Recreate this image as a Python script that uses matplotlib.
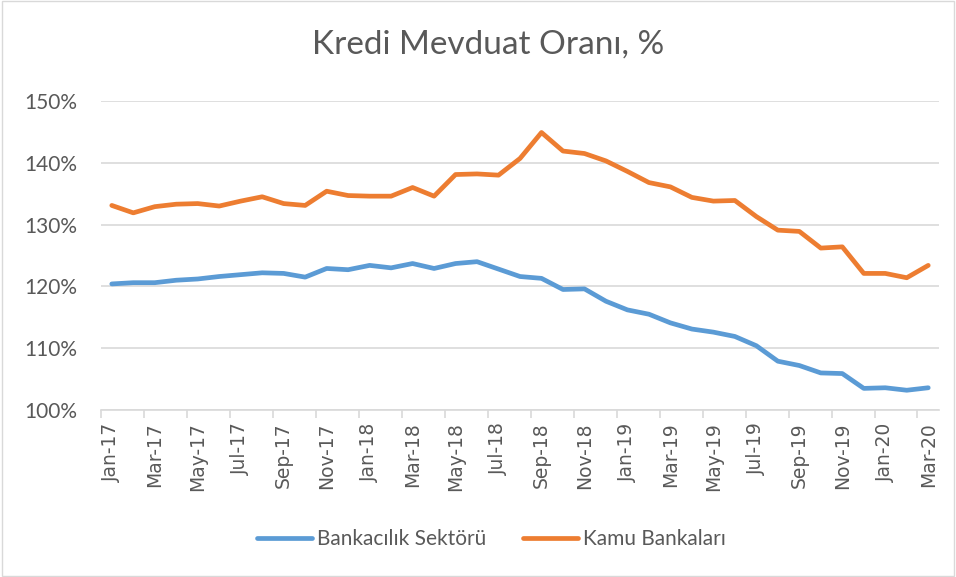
import matplotlib.pyplot as plt
from matplotlib.patches import Rectangle

# aylık veriler, Oca 2017 - Mar 2020
aylar = ["Jan-17", "Feb-17", "Mar-17", "Apr-17", "May-17", "Jun-17", "Jul-17", "Aug-17",
         "Sep-17", "Oct-17", "Nov-17", "Dec-17", "Jan-18", "Feb-18", "Mar-18", "Apr-18",
         "May-18", "Jun-18", "Jul-18", "Aug-18", "Sep-18", "Oct-18", "Nov-18", "Dec-18",
         "Jan-19", "Feb-19", "Mar-19", "Apr-19", "May-19", "Jun-19", "Jul-19", "Aug-19",
         "Sep-19", "Oct-19", "Nov-19", "Dec-19", "Jan-20", "Feb-20", "Mar-20"]

bankacilik = [120.4, 120.6, 120.6, 121.0, 121.2, 121.6, 121.9, 122.2, 122.1, 121.5,
              122.9, 122.7, 123.4, 123.0, 123.7, 122.9, 123.7, 124.0, 122.8, 121.6,
              121.3, 119.5, 119.6, 117.6, 116.2, 115.5, 114.1, 113.1, 112.6, 111.9,
              110.4, 107.9, 107.2, 106.0, 105.9, 103.5, 103.6, 103.2, 103.6]

kamu = [133.1, 131.9, 132.9, 133.3, 133.4, 133.0, 133.8, 134.5, 133.4, 133.1,
        135.4, 134.7, 134.6, 134.6, 136.0, 134.6, 138.1, 138.2, 138.0, 140.7,
        144.9, 141.9, 141.5, 140.3, 138.6, 136.8, 136.1, 134.4, 133.8, 133.9,
        131.3, 129.1, 128.9, 126.2, 126.4, 122.1, 122.1, 121.4, 123.4]

x = list(range(len(aylar)))

fig = plt.figure(figsize=(9.56, 5.77), dpi=100)
ax = fig.add_axes([0.1057, 0.2894, 0.8765, 0.5356])

# cerceve
fig.patches.append(Rectangle((0.002, 0.002), 0.996, 0.996, transform=fig.transFigure,
                             fill=False, ec="#d9d9d9", lw=1))

ax.plot(x, bankacilik, color="#5B9BD5", lw=3.4, solid_joinstyle="round",
        solid_capstyle="round", label="Bankacılık Sektörü")
ax.plot(x, kamu, color="#ED7D31", lw=3.4, solid_joinstyle="round",
        solid_capstyle="round", label="Kamu Bankaları")

ax.set_xlim(-0.5, len(aylar) - 0.5)
ax.set_ylim(100, 150)
ax.set_yticks([100, 110, 120, 130, 140, 150])
ax.set_yticklabels([f"{v}%" for v in [100, 110, 120, 130, 140, 150]],
                   fontsize=15, color="#595959", family="Lato")
ax.grid(axis="y", color="#d9d9d9", lw=1.2)
ax.set_axisbelow(True)

# tick cizgileri kategori sinirlarinda, etiketler kategorilerin ortasinda
ax.set_xticks([i - 0.5 for i in range(0, len(aylar), 2)])
ax.set_xticklabels([])
ax.set_xticks(x[::2], minor=True)
ax.set_xticklabels(aylar[::2], minor=True, rotation=90, fontsize=13.5, color="#595959",
                   family="DejaVu Sans")
ax.tick_params(axis="x", which="major", length=6, color="#d9d9d9", width=1.2)
ax.tick_params(axis="x", which="minor", length=0, pad=9)
ax.tick_params(axis="y", length=0, pad=17)

for s in ["left", "right", "top"]:
    ax.spines[s].set_visible(False)
ax.spines["bottom"].set_color("#d9d9d9")
ax.spines["bottom"].set_linewidth(1.2)

fig.text(0.511, 0.922, "Kredi Mevduat Oranı, %", ha="center", va="center",
         fontsize=24, color="#595959", family="Lato")

fig.legend(loc="center", bbox_to_anchor=(0.514, 1 - 539 / 577), ncol=2, frameon=False,
           handlelength=2.64, columnspacing=1.75, handletextpad=0.25,
           prop={"family": "Lato", "size": 15}, labelcolor="#595959")

fig.savefig("out.png", dpi=100)
